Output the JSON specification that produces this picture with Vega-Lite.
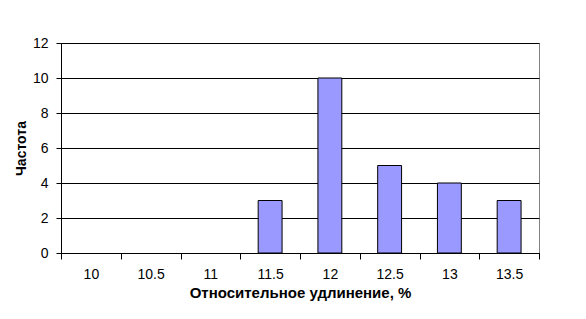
{
  "$schema": "https://vega.github.io/schema/vega-lite/v6.json",
  "autosize": "none",
  "width": 478,
  "height": 210,
  "padding": {"left": 61, "top": 43, "right": 47, "bottom": 66},
  "background": "white",
  "data": {"values": [
    {"bin": "10", "count": 0},
    {"bin": "10.5", "count": 0},
    {"bin": "11", "count": 0},
    {"bin": "11.5", "count": 3},
    {"bin": "12", "count": 10},
    {"bin": "12.5", "count": 5},
    {"bin": "13", "count": 4},
    {"bin": "13.5", "count": 3}
  ]},
  "transform": [{"filter": "datum.count > 0"}],
  "mark": {"type": "bar", "fill": "#9999FF", "stroke": "black", "strokeWidth": 1, "width": {"band": 0.4}},
  "encoding": {
    "x": {
      "field": "bin", "type": "ordinal", "sort": null,
      "scale": {"type": "band", "domain": ["10", "10.5", "11", "11.5", "12", "12.5", "13", "13.5"], "paddingInner": 0, "paddingOuter": 0},
      "axis": {
        "title": "Относительное удлинение, %",
        "labelAngle": 0, "tickBand": "extent", "grid": false,
        "domainColor": "black", "tickColor": "black", "tickSize": 6,
        "labelFont": "Liberation Sans", "labelFontSize": 14, "labelColor": "black", "labelPadding": 8,
        "titleFont": "Liberation Sans", "titleFontSize": 15, "titleFontWeight": "bold", "titleColor": "black", "titlePadding": 4
      }
    },
    "y": {
      "field": "count", "type": "quantitative",
      "scale": {"domain": [0, 12], "nice": false},
      "axis": {
        "title": "Частота", "values": [0, 2, 4, 6, 8, 10, 12],
        "grid": true, "gridColor": "black", "gridOpacity": 1,
        "domainColor": "black", "tickColor": "black", "tickSize": 5,
        "labelFont": "Liberation Sans", "labelFontSize": 14, "labelColor": "black", "labelPadding": 8,
        "titleFont": "Liberation Sans", "titleFontSize": 14, "titleFontWeight": "bold", "titleColor": "black", "titlePadding": 4
      }
    }
  },
  "config": {"view": {"stroke": "#808080", "strokeWidth": 1}}
}
